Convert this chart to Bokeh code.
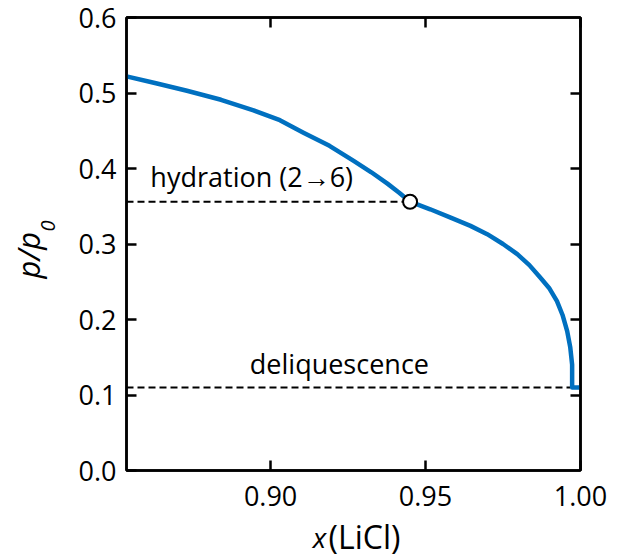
import math
from bokeh.plotting import figure
from bokeh.models import Range1d, LinearAxis, FixedTicker, Label, PrintfTickFormatter
from bokeh.core.properties import value
from bokeh.embed import file_html
from bokeh.resources import INLINE

# ---- data ----
x_curve = [0.8535, 0.863, 0.873, 0.884, 0.8945, 0.903, 0.9106, 0.9190, 0.9268,
           0.9325, 0.9377, 0.9415, 0.945, 0.9515, 0.9581, 0.9645, 0.9699, 0.9750,
           0.9796, 0.9835, 0.9870, 0.9900, 0.9924, 0.9942, 0.9957, 0.9967, 0.9973,
           0.9973, 1.0]
y_curve = [0.522, 0.513, 0.503, 0.491, 0.477, 0.464, 0.4475, 0.430, 0.410,
           0.395, 0.380, 0.368, 0.356, 0.346, 0.335, 0.324, 0.313, 0.300,
           0.2865, 0.272, 0.2556, 0.241, 0.2244, 0.206, 0.1846, 0.163, 0.140,
           0.110, 0.110]
hydration_x = [0.8535, 0.945]
hydration_y = [0.356, 0.356]
deliq_x = [0.8535, 0.9967]
deliq_y = [0.110, 0.110]
point_x = [0.945]
point_y = [0.356]
x_ticks = [0.90, 0.95, 1.00]
y_ticks = [0.0, 0.1, 0.2, 0.3, 0.4, 0.5, 0.6]

FONT = "Open Sans"
BLUE = "#0070C0"

p = figure(width=619, height=558, output_backend="svg", toolbar_location=None,
           x_range=Range1d(0.8535, 1.0), y_range=Range1d(0.0, 0.6),
           min_border_left=126, min_border_right=39, min_border_top=17,
           min_border_bottom=88, x_axis_location=None, y_axis_location=None)
p.xgrid.visible = False
p.ygrid.visible = False
p.outline_line_color = "black"
p.outline_line_width = 2.5
p.background_fill_color = "white"
p.border_fill_color = "white"


def style(ax, ticks, labels=True):
    ax.ticker = FixedTicker(ticks=ticks)
    ax.major_tick_in = 10
    ax.major_tick_out = 0
    ax.minor_tick_line_color = None
    ax.major_tick_line_width = 2.5
    ax.major_tick_line_color = "black"
    ax.axis_line_width = 2.5
    ax.axis_line_color = "black"
    if labels:
        ax.major_label_text_font = FONT
        ax.major_label_text_font_size = "27px"
        ax.major_label_text_color = "black"
    else:
        ax.formatter = PrintfTickFormatter(format="")
        ax.major_label_text_font_size = "1px"
        ax.major_label_standoff = 0


xb = LinearAxis(formatter=PrintfTickFormatter(format="%.2f"))
style(xb, x_ticks)
xb.major_label_standoff = 15
p.add_layout(xb, "below")
xa = LinearAxis()
style(xa, x_ticks, labels=False)
p.add_layout(xa, "above")
yl = LinearAxis(formatter=PrintfTickFormatter(format="%.1f"))
style(yl, y_ticks)
yl.major_label_standoff = 10
p.add_layout(yl, "left")
yr = LinearAxis()
style(yr, y_ticks[1:-1], labels=False)
p.add_layout(yr, "right")

# dashed reference lines
p.line(hydration_x, hydration_y, line_color="black", line_width=2, line_dash="7 4")
p.line(deliq_x, deliq_y, line_color="black", line_width=2, line_dash="7 4")

# curve
p.line(x_curve, y_curve, line_color=BLUE, line_width=4.5, line_join="round")

# transition point
p.scatter(point_x, point_y, marker="circle", size=14, fill_color="white",
          line_color="black", line_width=2)

# annotations
p.text(x=[0.8612], y=[0.390], text=["hydration (2\u21926)"], text_font=value(FONT),
       text_font_size="27px", text_color="black", text_align="left",
       text_baseline="alphabetic")
p.text(x=[0.9222], y=[0.142], text=["deliquescence"], text_font=value(FONT),
       text_font_size="27px", text_color="black", text_align="center",
       text_baseline="alphabetic")

# axis titles (placed in side panels so they are not clipped to the frame)
p.add_layout(Label(x=0.9187, y=-0.0876, text="(LiCl)",
                   text_font=FONT, text_font_size="32px",
                   text_align="left", text_baseline="alphabetic", text_color="black"),
             "below")
p.add_layout(Label(x=0.9136, y=-0.0876, text="x",
                   text_font=FONT, text_font_size="28px", text_font_style="italic",
                   text_align="left", text_baseline="alphabetic", text_color="black"),
             "right")
p.add_layout(Label(x=0.8216, y=0.2543, text="p/p",
                   text_font=FONT, text_font_size="31px", text_font_style="italic",
                   angle=math.pi / 2, text_align="left", text_baseline="alphabetic",
                   text_color="black"), "left")
p.add_layout(Label(x=0.8281, y=0.3165, text="0",
                   text_font=FONT, text_font_size="20px", text_font_style="italic",
                   angle=math.pi / 2, text_align="left", text_baseline="alphabetic",
                   text_color="black"), "left")

open("out.html", "w").write(file_html(p, INLINE))
